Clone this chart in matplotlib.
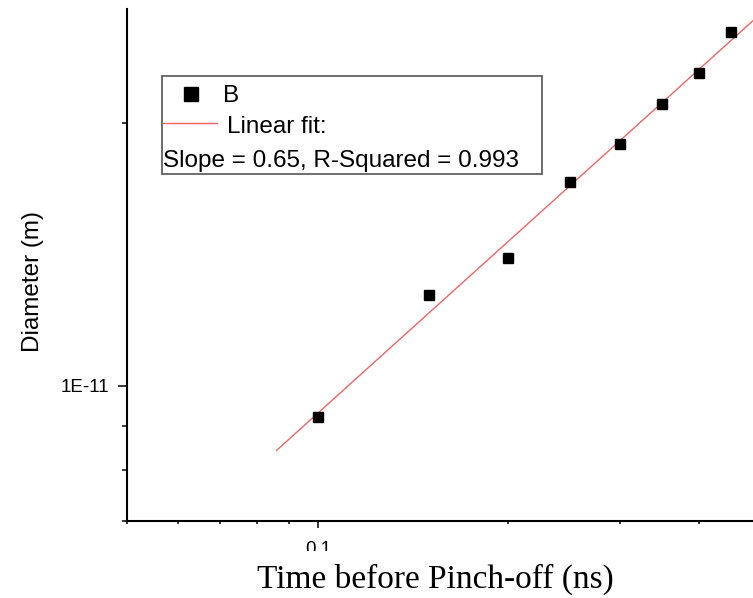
import matplotlib.pyplot as plt
import matplotlib.ticker as ticker
from matplotlib.patches import Rectangle

# time before pinch-off (ns) and measured diameter (m)
time_ns = [0.10, 0.15, 0.20, 0.25, 0.30, 0.35, 0.40, 0.45]
diameter = [0.92e-11, 1.27e-11, 1.40e-11, 1.71e-11, 1.89e-11, 2.10e-11, 2.28e-11, 2.54e-11]

# linear fit (log-log) end points as drawn
fit_t = [0.086, 0.5]
fit_d = [0.843e-11, 2.662e-11]

xticks = [0.1]
xticklabels = ['0.1']
yticks = [1e-11]
yticklabels = ['1E-11']

W, H = 753, 598
sans = 'Liberation Sans'
serif = 'Liberation Serif'


def fx(px):
    return px / W


def fy(py):
    return 1 - py / H


fig = plt.figure(figsize=(W / 100, H / 100), dpi=100)
ax = fig.add_axes([fx(127.5), fy(521), 1 - fx(127.5), (521 - 9) / H])

ax.plot(fit_t, fit_d, color='#f26464', lw=1.0, zorder=2)
ax.plot(time_ns, diameter, 's', color='black', ms=7, zorder=3)

ax.set_xscale('log')
ax.set_yscale('log')
ax.set_xlim(0.05, 0.4875)
ax.set_ylim(7.0e-12, 2.70e-11)

ax.xaxis.set_major_locator(ticker.FixedLocator(xticks))
ax.xaxis.set_major_formatter(ticker.FixedFormatter(xticklabels))
ax.xaxis.set_minor_locator(ticker.LogLocator(subs=range(2, 10)))
ax.xaxis.set_minor_formatter(ticker.NullFormatter())
ax.yaxis.set_major_locator(ticker.FixedLocator(yticks))
ax.yaxis.set_major_formatter(ticker.FixedFormatter(yticklabels))
ax.yaxis.set_minor_locator(ticker.LogLocator(subs=range(2, 10)))
ax.yaxis.set_minor_formatter(ticker.NullFormatter())

for s in ['top', 'right']:
    ax.spines[s].set_visible(False)
for s in ['left', 'bottom']:
    ax.spines[s].set_linewidth(1.5)

ax.tick_params(axis='x', which='major', direction='out', length=5.3, width=1.1, pad=9)
ax.tick_params(axis='x', which='minor', direction='out', length=2.4, width=1.1)
ax.tick_params(axis='y', which='major', direction='out', length=6.8, width=1.1, pad=6.5)
ax.tick_params(axis='y', which='minor', direction='out', length=3.6, width=1.1)
for lab in ax.get_xticklabels() + ax.get_yticklabels():
    lab.set_fontfamily(sans)
    lab.set_fontsize(13.5)

ax.set_ylabel('Diameter (m)', fontsize=17.5, family=sans, va='center')
ax.yaxis.set_label_coords((33.5 - 127.5) / 625.5, (521 - 281.5) / 512)
ax.set_xlabel('Time before Pinch-off (ns)', fontsize=24, family=serif, va='baseline')
ax.xaxis.set_label_coords((435.5 - 127.5) / 625.5, (521 - 588) / 512)

# the original cuts off the lower part of the "0.1" label
fig.patches.append(Rectangle((fx(295), fy(561)), fx(345) - fx(295), fy(550.5) - fy(561),
                             transform=fig.transFigure, facecolor='white',
                             edgecolor='none', zorder=4))

# legend box, drawn the way the original software lays it out
fig.patches.append(Rectangle((fx(162), fy(174)), fx(542) - fx(162), fy(76) - fy(174),
                             transform=fig.transFigure, facecolor='white',
                             edgecolor='#555555', lw=1.2, zorder=5))
fig.lines.append(plt.Line2D([fx(191)], [fy(94)], marker='s', color='black', ms=9.5,
                            transform=fig.transFigure, zorder=6))
fig.lines.append(plt.Line2D([fx(163), fx(217)], [fy(123), fy(123)], color='#f26464', lw=1.0,
                            transform=fig.transFigure, zorder=6))
fig.text(fx(223), fy(102), 'B', fontsize=17.5, family=sans, va='baseline', zorder=6)
fig.text(fx(227), fy(133), 'Linear fit:', fontsize=17.5, family=sans, va='baseline', zorder=6)
fig.text(fx(163), fy(167), 'Slope = 0.65, R-Squared = 0.993', fontsize=17.5, family=sans,
         va='baseline', zorder=6)

fig.savefig('out.png', dpi=100)
